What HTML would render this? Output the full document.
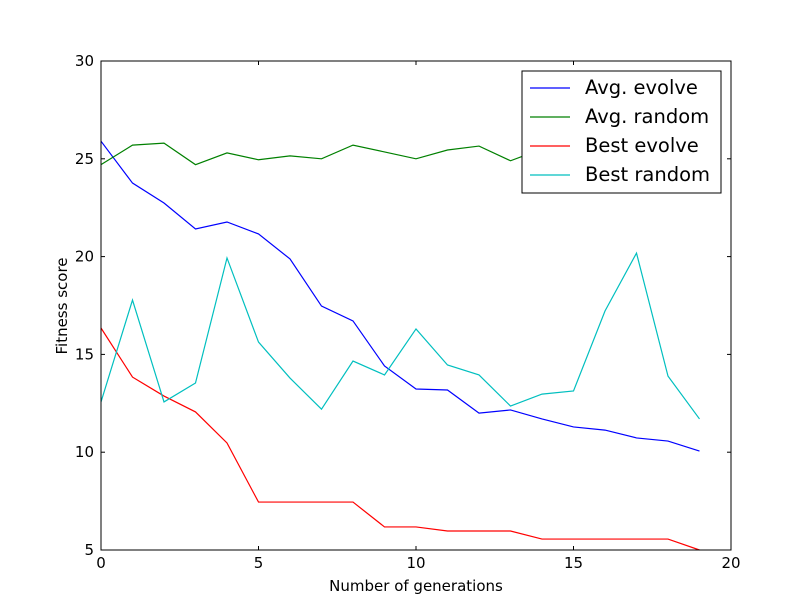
<!DOCTYPE html>
<html><head><meta charset="utf-8"><style>
body{margin:0;background:#fff;}
svg{display:block;font-family:"DejaVu Sans","Liberation Sans",sans-serif;}
</style></head><body>
<svg id="chart" width="812" height="612">
<rect x="0" y="0" width="812" height="612" fill="#fff"/>
<g id="series"></g>
<rect x="101" y="61" width="630" height="489" fill="none" stroke="#000" stroke-width="1"/>
<g id="axes"></g>
<text x="416" y="591" font-size="15" text-anchor="middle">Number of generations</text>
<text x="67" y="306" font-size="15" text-anchor="middle" transform="rotate(-90 67 306)">Fitness score</text>
<g id="legend"></g>
</svg>
<script>
const generations=[0,1,2,3,4,5,6,7,8,9,10,11,12,13,14,15,16,17,18,19];
const avgEvolve=[25.9,23.76,22.74,21.41,21.77,21.16,19.88,17.47,16.71,14.41,13.23,13.18,12.0,12.16,11.7,11.29,11.13,10.73,10.57,10.06];
const avgRandom=[24.7,25.7,25.8,24.7,25.3,24.95,25.15,25.0,25.7,25.35,25.0,25.45,25.65,24.9,25.5,25.3,25.1,25.4,25.2,25.3];
const bestEvolve=[16.35,13.84,12.87,12.06,10.47,7.45,7.45,7.45,7.45,6.18,6.18,5.97,5.97,5.97,5.56,5.56,5.56,5.56,5.56,5.0];
const bestRandom=[12.57,17.78,12.57,13.54,19.93,15.63,13.79,12.2,14.66,13.95,16.3,14.46,13.95,12.36,12.97,13.13,17.22,20.18,13.89,11.7];
const xTicks=[0,5,10,15,20];
const yTicks=[5,10,15,20,25,30];
const seriesNames=["Avg. evolve","Avg. random","Best evolve","Best random"];
const seriesColors=["#0000ff","#008000","#ff0000","#00bfbf"];
const X0=101,X1=731,Y0=550,Y1=61;
const sx=v=>X0+(v-0)/(20-0)*(X1-X0);
const sy=v=>Y0-(v-5)/(30-5)*(Y0-Y1);
const NS="http://www.w3.org/2000/svg";
const all=[avgEvolve,avgRandom,bestEvolve,bestRandom];
const sg=document.getElementById('series');
all.forEach((d,i)=>{
  const p=document.createElementNS(NS,'polyline');
  p.setAttribute('points',d.map((v,j)=>sx(generations[j])+','+sy(v)).join(' '));
  p.setAttribute('fill','none');p.setAttribute('stroke',seriesColors[i]);p.setAttribute('stroke-width','1.2');
  
  
  sg.appendChild(p);
});
const ag=document.getElementById('axes');
function mk(tag,attrs,text){const e=document.createElementNS(NS,tag);for(const k in attrs)e.setAttribute(k,attrs[k]);if(text!==undefined)e.textContent=text;ag.appendChild(e);return e;}
xTicks.forEach(t=>{const x=sx(t);
  const a=mk('line',{x1:x,x2:x,y1:Y0,y2:Y0-4,stroke:'#000'});
  
  const b=mk('line',{x1:x,x2:x,y1:Y1,y2:Y1+4,stroke:'#000'});
  
  const l=mk('text',{x:x,y:Y0+18,'font-size':15,'text-anchor':'middle'},t);
  
});
yTicks.forEach(t=>{const y=sy(t);
  const a=mk('line',{x1:X0,x2:X0+4,y1:y,y2:y,stroke:'#000'});
  
  const b=mk('line',{x1:X1,x2:X1-4,y1:y,y2:y,stroke:'#000'});
  
  const l=mk('text',{x:X0-7,y:y+5,'font-size':15,'text-anchor':'end'},t);
  
});
const lg=document.getElementById('legend');
const box=document.createElementNS(NS,'rect');
box.setAttribute('x',522);box.setAttribute('y',71);box.setAttribute('width',199);box.setAttribute('height',122);
box.setAttribute('fill','#fff');box.setAttribute('stroke','#000');


lg.appendChild(box);
seriesNames.forEach((n,i)=>{const y=88+i*29;
  const l=document.createElementNS(NS,'line');
  l.setAttribute('x1',530);l.setAttribute('x2',570);l.setAttribute('y1',y);l.setAttribute('y2',y);
  l.setAttribute('stroke',seriesColors[i]);l.setAttribute('stroke-width','1.2');
  
  
  lg.appendChild(l);
  const t=document.createElementNS(NS,'text');
  t.setAttribute('x',585);t.setAttribute('y',y+6);t.setAttribute('font-size',19.5);t.textContent=n;
  
  
  lg.appendChild(t);
});
</script>
</body></html>
